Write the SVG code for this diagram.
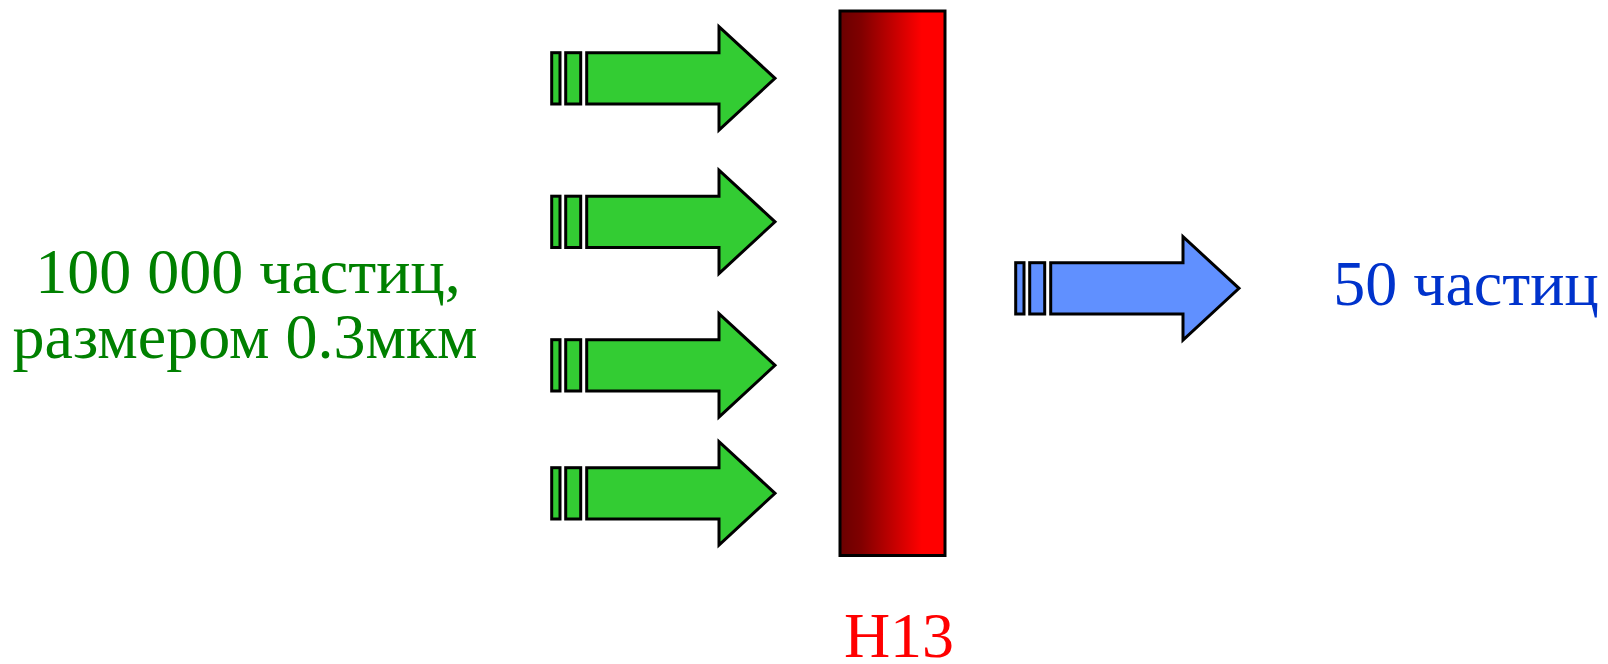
<svg xmlns="http://www.w3.org/2000/svg" width="1608" height="664" viewBox="0 0 1608 664">
<style>
.g{fill:#33cc33;stroke:#000;stroke-width:3;stroke-linejoin:miter}
.b{fill:#6090ff;stroke:#000;stroke-width:3;stroke-linejoin:miter}
text{font-family:"Liberation Serif","Times New Roman",serif;font-size:64px;text-anchor:middle}
</style>
<defs>
<linearGradient id="red" x1="0" y1="0" x2="1" y2="0">
<stop offset="0" stop-color="#6a0000"/>
<stop offset="0.2" stop-color="#800000"/>
<stop offset="0.78" stop-color="#ff0000"/>
<stop offset="1" stop-color="#ff0000"/>
</linearGradient>
<g id="arrow">
<rect x="551.7" y="52.7" width="8.3" height="51.3"/>
<rect x="565.7" y="52.7" width="15" height="51.3"/>
<path d="M586.7 52.7 H719 V26.7 L775 78.3 L719 130 V104 H586.7 Z"/>
</g>
</defs>
<g id="connectors">
<use href="#arrow" class="g"/>
<use href="#arrow" class="g" transform="translate(0,143.5)"/>
<use href="#arrow" class="g" transform="translate(0,287)"/>
<use href="#arrow" class="g" transform="translate(0,415)"/>
<use href="#arrow" class="b" transform="translate(464,210)"/>
</g>
<g id="filter">
<rect x="840" y="11" width="105" height="544.5" fill="url(#red)" stroke="#000" stroke-width="3"/>
</g>
<g id="input-label">
<text x="248" y="293" fill="#008000">100 000 частиц,</text>
<text x="245" y="358" fill="#008000">размером 0.3мкм</text>
</g>
<g id="output-label">
<text x="1466" y="305" fill="#0033cc">50 частиц</text>
</g>
<g id="filter-label">
<text x="899" y="657" fill="#ff0000">H13</text>
</g>
</svg>
